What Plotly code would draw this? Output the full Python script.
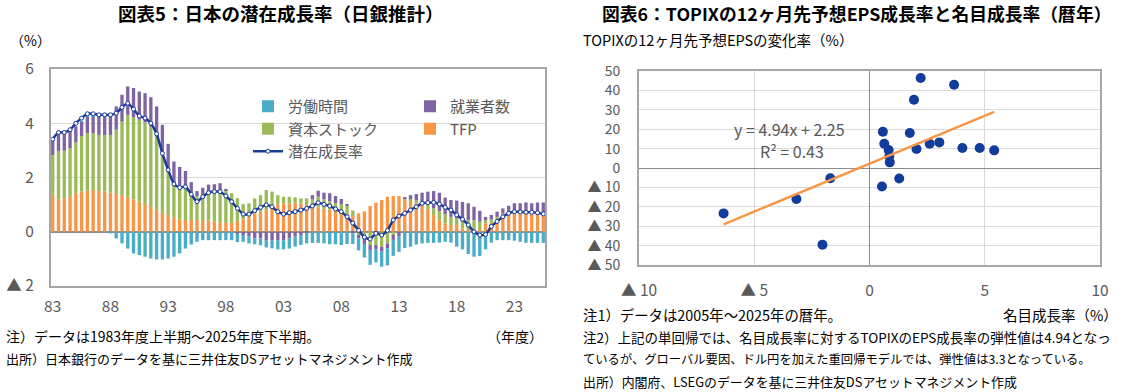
import plotly.graph_objects as go

FONT = "Noto Sans CJK JP"
W, H = 1134, 392

# ---------------- Left chart data (half-years 1983H1 .. 2025H2) ----------------
periods = [f"{y}H{h}" for y in range(1983, 2026) for h in (1, 2)]

tfp = [1.35, 1.20, 1.23, 1.32, 1.42, 1.48, 1.51, 1.54, 1.50, 1.48,
       1.44, 1.39, 1.35, 1.29, 1.19, 1.11, 1.02, 0.92, 0.80, 0.70,
       0.62, 0.53, 0.46, 0.43, 0.43, 0.43, 0.43, 0.41, 0.37, 0.34,
       0.33, 0.33, 0.40, 0.46, 0.55, 0.68, 0.74, 0.80, 0.95, 0.99,
       1.05, 1.05, 1.07, 1.05, 0.99, 0.99, 0.90, 0.83, 0.83, 0.86,
       0.72, 0.58, 0.58, 0.68, 0.75, 0.95, 1.07, 1.17, 1.29, 1.32,
       1.32, 1.20, 1.15, 1.05, 0.98, 0.83, 0.62, 0.43, 0.31, 0.25,
       0.25, 0.12, 0.06, 0.04, 0.06, 0.31, 0.33, 0.43, 0.55, 0.64,
       0.68, 0.70, 0.74, 0.72, 0.72, 0.70]

capital = [1.48, 1.78, 1.76, 1.76, 1.87, 2.05, 2.12, 2.09, 2.07, 2.09,
           2.13, 2.37, 2.71, 3.02, 3.03, 3.02, 3.01, 2.96, 2.71, 2.19,
           1.66, 1.26, 1.25, 1.25, 0.95, 0.87, 0.94, 1.06, 1.10, 1.13,
           1.20, 1.09, 0.84, 0.56, 0.50, 0.55, 0.61, 0.74, 0.53, 0.36,
           0.24, 0.24, 0.20, 0.18, 0.24, 0.20, 0.39, 0.36, 0.30, 0.19,
           0.30, 0.37, 0.20, -0.12, -0.25, -0.49, -0.49, -0.55, -0.43, -0.12,
           0.00, 0.00, 0.05, 0.11, 0.15, 0.18, 0.25, 0.33, 0.33, 0.30,
           0.25, 0.30, 0.37, 0.38, 0.31, 0.12, 0.12, 0.12, 0.12, 0.10,
           0.06, 0.05, 0.03, 0.03, 0.03, 0.03]

employment = [0.56, 0.70, 0.70, 0.68, 0.60, 0.53, 0.62, 0.62, 0.68, 0.68,
              0.70, 0.86, 0.99, 1.05, 1.08, 1.04, 1.08, 1.08, 1.11, 1.05,
              0.96, 0.80, 0.68, 0.56, 0.45, 0.20, 0.25, 0.27, 0.28, 0.32,
              0.05, 0.00, -0.08, -0.12, -0.18, -0.25, -0.25, -0.33, -0.33, -0.31,
              -0.31, -0.25, -0.18, -0.12, -0.05, 0.16, 0.22, 0.25, 0.29, 0.27,
              0.19, 0.05, -0.05, -0.12, -0.20, -0.18, -0.16, -0.18, -0.18, -0.18,
              -0.16, 0.08, 0.15, 0.23, 0.31, 0.47, 0.63, 0.68, 0.62, 0.62,
              0.65, 0.68, 0.62, 0.50, 0.40, 0.12, 0.17, 0.19, 0.19, 0.22,
              0.31, 0.30, 0.31, 0.30, 0.33, 0.35]

hours = [0.00, 0.00, 0.00, 0.00, 0.00, 0.02, 0.03, 0.03, 0.02, 0.01,
         -0.06, -0.25, -0.43, -0.62, -0.80, -0.86, -0.92, -0.99, -1.02, -1.02,
         -0.99, -0.92, -0.80, -0.62, -0.47, -0.37, -0.31, -0.31, -0.31, -0.31,
         -0.31, -0.31, -0.30, -0.25, -0.25, -0.21, -0.25, -0.25, -0.28, -0.34,
         -0.34, -0.37, -0.37, -0.37, -0.38, -0.41, -0.41, -0.43, -0.46, -0.46,
         -0.49, -0.45, -0.40, -0.45, -0.50, -0.55, -0.48, -0.56, -0.63, -0.59,
         -0.58, -0.60, -0.55, -0.47, -0.43, -0.41, -0.41, -0.40, -0.37, -0.40,
         -0.55, -0.65, -0.82, -0.92, -0.89, -0.65, -0.40, -0.31, -0.31, -0.31,
         -0.33, -0.37, -0.41, -0.41, -0.41, -0.41]

potential = [3.41, 3.66, 3.66, 3.76, 4.00, 4.19, 4.35, 4.35, 4.31, 4.31,
             4.31, 4.37, 4.59, 4.74, 4.52, 4.27, 4.19, 4.00, 3.61, 2.89,
             2.28, 1.76, 1.63, 1.66, 1.38, 1.11, 1.29, 1.44, 1.48, 1.48,
             1.32, 1.11, 0.86, 0.65, 0.65, 0.78, 0.90, 0.99, 0.92, 0.74,
             0.65, 0.70, 0.74, 0.80, 0.86, 0.95, 1.07, 1.01, 0.95, 0.84,
             0.74, 0.55, 0.32, 0.05, -0.20, -0.27, -0.06, -0.12, 0.05, 0.43,
             0.58, 0.68, 0.80, 0.92, 1.05, 1.07, 1.08, 1.02, 0.90, 0.80,
             0.62, 0.46, 0.25, 0.00, -0.12, -0.10, 0.20, 0.38, 0.55, 0.68,
             0.74, 0.73, 0.72, 0.72, 0.70, 0.66]

left_xtick_periods = ["1983H1", "1988H1", "1993H1", "1998H1", "2003H1",
                      "2008H1", "2013H1", "2018H1", "2023H1"]
left_xtick_text = ["83", "88", "93", "98", "03", "08", "13", "18", "23"]
left_ytick_vals = [-2, 0, 2, 4, 6]
left_ytick_text = ["▲ 2", "0", "2", "4", "6"]

# ---------------- Right chart data (calendar years 2005..2025) ----------------
nominal_growth = [2.22, 3.67, 1.93, 0.58, 1.75, 0.64, 0.83, 0.86, 0.88, 2.04,
                  2.61, 3.03, 4.03, 4.78, 5.41, 1.29, 0.54, -6.33, -3.17, -1.70,
                  -2.04]
eps_growth = [46.4, 42.9, 35.2, 18.7, 18.0, 12.5, 9.3, 6.0, 2.9, 9.8,
              12.5, 13.2, 10.3, 10.3, 9.1, -5.4, -9.5, -23.4, -16.0, -5.3,
              -39.5]
trend_slope = 4.94
trend_intercept = 2.25
r_squared = 0.43

right_xtick_vals = [-10, -5, 0, 5, 10]
right_xtick_text = ["▲ 10", "▲ 5", "0", "5", "10"]
right_ytick_vals = [-50, -40, -30, -20, -10, 0, 10, 20, 30, 40, 50]
right_ytick_text = ["▲ 50", "▲ 40", "▲ 30", "▲ 20", "▲ 10", "0",
                    "10", "20", "30", "40", "50"]

# ---------------- Colours ----------------
C_HOURS = "#4BACC6"
C_EMP = "#8064A2"
C_CAP = "#9BBB59"
C_TFP = "#F79646"
C_LINE = "#1A3A9A"
C_DOT = "#123C9C"
C_TICK = "#595959"
C_GRID = "#D9D9D9"
C_ZERO = "#8C8C8C"
C_BORDER = "#A6A6A6"

idx = list(range(len(periods)))
pos = {p: i for i, p in enumerate(periods)}

fig = go.Figure()

# stacking order (bottom -> top): TFP, capital, employment, hours
fig.add_trace(go.Bar(x=idx, y=tfp, name="TFP", marker_color=C_TFP,
                     marker_line_width=0, legend="legend2", legendrank=2))
fig.add_trace(go.Bar(x=idx, y=capital, name="資本ストック", marker_color=C_CAP,
                     marker_line_width=0, legend="legend", legendrank=2))
fig.add_trace(go.Bar(x=idx, y=employment, name="就業者数", marker_color=C_EMP,
                     marker_line_width=0, legend="legend2", legendrank=1))
fig.add_trace(go.Bar(x=idx, y=hours, name="労働時間", marker_color=C_HOURS,
                     marker_line_width=0, legend="legend", legendrank=1))
fig.add_trace(go.Scatter(x=idx, y=potential, name="潜在成長率", mode="lines+markers",
                         line=dict(color=C_LINE, width=2.5, shape="spline", smoothing=0.6),
                         marker=dict(size=4, color="white",
                                     line=dict(color=C_LINE, width=1)),
                         legend="legend", legendrank=3))

# right scatter
fig.add_trace(go.Scatter(x=nominal_growth, y=eps_growth, mode="markers",
                         marker=dict(size=10, color=C_DOT), showlegend=False,
                         xaxis="x2", yaxis="y2"))
x_lo, x_hi = min(nominal_growth), max(nominal_growth)
fig.add_trace(go.Scatter(x=[x_lo, x_hi],
                         y=[trend_slope * x_lo + trend_intercept,
                            trend_slope * x_hi + trend_intercept],
                         mode="lines", line=dict(color=C_TFP, width=2.5),
                         showlegend=False, xaxis="x2", yaxis="y2"))

def px_x(v):
    return v / W

def px_y(v):
    return 1 - v / H

axis_font = dict(family=FONT, size=15.5, color=C_TICK)
axis_font_small = dict(family=FONT, size=14, color=C_TICK)

fig.update_layout(
    width=W, height=H,
    margin=dict(l=0, r=0, t=0, b=0, autoexpand=False),
    paper_bgcolor="white", plot_bgcolor="white",
    font=dict(family=FONT, color="#000000"),
    barmode="relative", bargap=0.42,
    xaxis=dict(domain=[px_x(51), px_x(545)], range=[-0.3, len(periods) - 0.7],
               tickvals=[pos[p] for p in left_xtick_periods], ticktext=left_xtick_text,
               showgrid=False, zeroline=False, ticks="", tickfont=axis_font,
               showline=True, mirror=True, linecolor=C_BORDER, linewidth=2,
               ticklabelstandoff=5, anchor="y", automargin=False),
    yaxis=dict(domain=[px_y(286), px_y(69)], range=[-2, 6],
               tickvals=left_ytick_vals, ticktext=left_ytick_text,
               showgrid=True, gridcolor=C_GRID, gridwidth=1,
               zeroline=True, zerolinecolor=C_ZERO, zerolinewidth=1.5,
               ticks="", tickfont=axis_font, ticklabelstandoff=12,
               showline=True, mirror=True, linecolor=C_BORDER, linewidth=2,
               anchor="x", automargin=False),
    xaxis2=dict(domain=[px_x(639), px_x(1100)], range=[-10, 10],
                tickvals=right_xtick_vals, ticktext=right_xtick_text,
                showgrid=True, gridcolor=C_GRID, gridwidth=1,
                zeroline=True, zerolinecolor=C_ZERO, zerolinewidth=1.2,
                ticks="", tickfont=axis_font, ticklabelstandoff=10,
                showline=True, mirror=True, linecolor=C_BORDER, linewidth=2,
                anchor="y2", automargin=False),
    yaxis2=dict(domain=[px_y(265), px_y(71)], range=[-50, 50],
                tickvals=right_ytick_vals, ticktext=right_ytick_text,
                showgrid=True, gridcolor=C_GRID, gridwidth=1,
                zeroline=True, zerolinecolor=C_ZERO, zerolinewidth=1.2,
                ticks="", tickfont=axis_font_small, ticklabelstandoff=14,
                showline=True, mirror=True, linecolor=C_BORDER, linewidth=2,
                anchor="x2", automargin=False),
    legend=dict(x=px_x(248), y=px_y(90), xanchor="left", yanchor="top",
                bgcolor="rgba(0,0,0,0)", font=dict(family=FONT, size=15, color=C_TICK),
                tracegroupgap=0, itemwidth=30, traceorder="normal"),
    legend2=dict(x=px_x(410), y=px_y(90), xanchor="left", yanchor="top",
                 bgcolor="rgba(0,0,0,0)", font=dict(family=FONT, size=15, color=C_TICK),
                 tracegroupgap=0, itemwidth=30, traceorder="normal"),
    showlegend=True,
)

def note(text, x, y, size=13.5, anchor="left", bold=False, color="#000000"):
    fig.add_annotation(text=("<b>%s</b>" % text) if bold else text,
                       x=px_x(x), y=px_y(y), xref="paper", yref="paper",
                       xanchor=anchor, yanchor="middle", showarrow=False,
                       font=dict(family=FONT, size=size, color=color))

# titles
note("図表5：日本の潜在成長率（日銀推計）", 280, 13, size=18.5, anchor="center", bold=True)
note("図表6：TOPIXの12ヶ月先予想EPS成長率と名目成長率（暦年）", 856, 13, size=17.8,
     anchor="center", bold=True)

# axis captions
note("（%）", 8, 40, size=14)
note("TOPIXの12ヶ月先予想EPSの変化率（%）", 581, 39, size=14.5)
note("（年度）", 545, 336, size=14, anchor="right")
note("名目成長率（%）", 1120, 314, size=14.5, anchor="right")

# notes (left)
note("注）データは1983年度上半期～2025年度下半期。", 4, 336, size=14)
note("出所）日本銀行のデータを基に三井住友DSアセットマネジメント作成", 4, 358, size=13)

# notes (right)
note("注1）データは2005年～2025年の暦年。", 581, 314, size=14.4)
note("注2）上記の単回帰では、名目成長率に対するTOPIXのEPS成長率の弾性値は4.94となっ", 581, 337, size=13.5)
note("ているが、グローバル要因、ドル円を加えた重回帰モデルでは、弾性値は3.3となっている。", 581, 359, size=12.3)
note("出所）内閣府、LSEGのデータを基に三井住友DSアセットマネジメント作成", 581, 381, size=12.9)

# regression text
fig.add_annotation(text="y = %.2fx + %.2f" % (trend_slope, trend_intercept),
                   x=-3.45, y=20.0, xref="x2", yref="y2", showarrow=False,
                   font=dict(family=FONT, size=16, color=C_TICK), borderpad=0)
fig.add_annotation(text="R² = %.2f" % r_squared,
                   x=-3.35, y=8.8, xref="x2", yref="y2", showarrow=False,
                   font=dict(family=FONT, size=16, color=C_TICK), borderpad=0)

fig.write_html("out.html",
               config={"displayModeBar": False},
               post_script="document.body.style.margin='0';"
                           "document.body.style.overflow='hidden';")
